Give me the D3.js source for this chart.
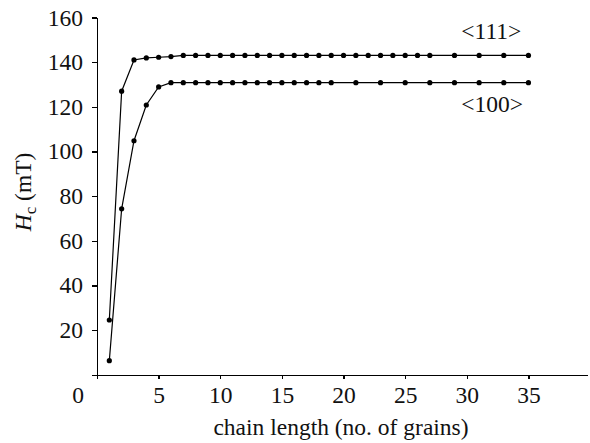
<!DOCTYPE html>
<meta charset="utf-8">
<style>
body { margin: 0; background: #fff; }
svg { font-family: "Liberation Serif", "Times New Roman", serif; }
.axis path, .axis line { fill: none; stroke: #000; stroke-width: 1.3; shape-rendering: crispEdges; }
.axis text { font-size: 23.5px; fill: #111; font-family: "Liberation Serif", "Times New Roman", serif; }
.series { fill: none; stroke: #000; stroke-width: 1.2; }
</style>
<svg width="590" height="443"></svg>
<script src="https://cdn.jsdelivr.net/npm/d3@7"></script>
<script>

// chain length (no. of grains) and coercivity Hc (mT)
var len111 = [1, 2, 3, 4, 5, 6, 7, 8, 9, 10, 11, 12, 13, 14, 15, 16, 17, 18, 19, 20,
  21, 22, 23, 24, 25, 26, 27, 29, 31, 33, 35];
var hc111 = [24.5, 127, 141, 141.9, 142.2, 142.5, 143, 143, 143, 143, 143, 143, 143, 143, 143, 143, 143, 143, 143, 143,
  143, 143, 143, 143, 143, 143, 143, 143, 143, 143, 143];

var len100 = [1, 2, 3, 4, 5, 6, 7, 8, 9, 10, 11, 12, 13, 14, 15, 16, 17, 18, 19,
  21, 23, 25, 27, 29, 31, 33, 35];
var hc100 = [6.3, 74.3, 104.8, 120.8, 128.9, 130.8, 130.8, 130.8, 130.8, 130.8, 130.8, 130.8, 130.8, 130.8, 130.8, 130.8, 130.8, 130.8, 130.8,
  130.8, 130.8, 130.8, 130.8, 130.8, 130.8, 130.8, 130.8];

var xTicks = [0, 5, 10, 15, 20, 25, 30, 35];
var yTicks = [0, 20, 40, 60, 80, 100, 120, 140, 160];

var svg = d3.select("svg");

var x = d3.scaleLinear().domain([0, 39.75]).range([97, 587]);
var y = d3.scaleLinear().domain([0, 160]).range([374.7, 17.5]);

// x axis
var gx = svg.append("g")
    .attr("class", "axis")
    .attr("transform", "translate(0," + y(0) + ")")
    .call(d3.axisBottom(x).tickValues(xTicks).tickSize(4).tickSizeOuter(0).tickPadding(8));

// the shared origin label sits under the y labels
gx.selectAll(".tick text").filter(function(d) { return d === 0; }).attr("x", -19.5);

// y axis
svg.append("g")
    .attr("class", "axis")
    .attr("transform", "translate(" + x(0) + ",0)")
    .call(d3.axisLeft(y).tickValues(yTicks).tickSize(5).tickSizeOuter(0).tickPadding(9)
      .tickFormat(function(d) { return d === 0 ? "" : d; }));

var line = d3.line()
    .x(function(d) { return x(d[0]); })
    .y(function(d) { return y(d[1]); });

[[len111, hc111], [len100, hc100]].forEach(function(s) {
  var pts = d3.zip(s[0], s[1]);
  svg.append("path").attr("class", "series").attr("d", line(pts));
  svg.append("g").selectAll("circle").data(pts).enter().append("circle")
      .attr("cx", function(d) { return x(d[0]); })
      .attr("cy", function(d) { return y(d[1]); })
      .attr("r", 2.6)
      .attr("fill", "#000");
});

// series labels
svg.append("text").attr("x", x(29.55)).attr("y", y(150.2))
    .attr("font-size", 23.5).attr("fill", "#111").text("<111>");
svg.append("text").attr("x", x(29.55)).attr("y", y(117.5))
    .attr("font-size", 23.5).attr("fill", "#111").text("<100>");

// axis titles
svg.append("text")
    .attr("x", (x(0) + x(39.75)) / 2 - 1).attr("y", 435)
    .attr("text-anchor", "middle").attr("font-size", 23.5).attr("fill", "#111")
    .text("chain length (no. of grains)");

var yt = svg.append("text")
    .attr("transform", "translate(31,192) rotate(-90)")
    .attr("text-anchor", "middle").attr("font-size", 23.5).attr("fill", "#111");
yt.append("tspan").attr("font-style", "italic").text("H");
yt.append("tspan").attr("font-size", 17).attr("dy", 5).text("c");
yt.append("tspan").attr("dy", -5).text(" (mT)");

</script>
